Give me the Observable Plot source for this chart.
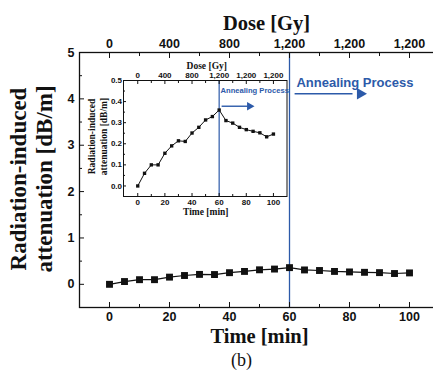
<!DOCTYPE html>
<html>
<head>
<meta charset="utf-8">
<script src="https://cdn.jsdelivr.net/npm/d3@7"></script>
<script src="https://cdn.jsdelivr.net/npm/@observablehq/plot@0.6"></script>
<style>
  html, body { margin: 0; padding: 0; background: white; }
  #wrap { position: relative; width: 433px; height: 374px; overflow: hidden; background: white; }
  #wrap svg { position: absolute; left: 0; top: 0; }
</style>
</head>
<body>
<div id="wrap"></div>
<script>
// ---- data ----
const timeMin = [0, 5, 10, 15, 20, 25, 30, 35, 40, 45, 50, 55, 60, 65, 70, 75, 80, 85, 90, 95, 100];
const ria = [0, 0.06, 0.10, 0.10, 0.155, 0.19, 0.214, 0.211, 0.251, 0.278, 0.313, 0.329, 0.36, 0.31, 0.298, 0.278, 0.267, 0.259, 0.252, 0.233, 0.246];
const xMajor = [0, 20, 40, 60, 80, 100];
const xMinor = [10, 30, 50, 70, 90];
const doseLabels = ["0", "400", "800", "1,200", "1,200", "1,200"];
const yMajorMain = [0, 1, 2, 3, 4, 5];
const yMinorMain = [0.5, 1.5, 2.5, 3.5, 4.5];
const yMajorInset = [0, 0.1, 0.2, 0.3, 0.4, 0.5];
const yMinorInset = [0.05, 0.15, 0.25, 0.35, 0.45];
const annealStart = [60];
const annealLabel = ["Annealing Process"];
// annotation anchors (data coordinates)
const mainNote = {x: 62.3, y: 4.26, ax1: 61.7, ax2: 81, ahx: 83.6, ay: 4.11};
const insetNote = {x: 61, y: 0.439, ax1: 61.8, ax2: 81, ahx: 82.4, ay: 0.378};

const data = timeMin.map((t, i) => ({t, v: ria[i]}));
const blue = "#2c5aa9";
const ink = "#111";
const sans = "Liberation Sans, Arial, sans-serif";
const serif = "Liberation Serif, Times New Roman, serif";
const doseFmt = d => doseLabels[xMajor.indexOf(d)];

// ---- main chart ----
const main = Plot.plot({
  width: 433, height: 374,
  marginLeft: 79, marginTop: 52, marginBottom: 67, marginRight: -6,
  style: {background: "transparent", overflow: "visible", color: ink},
  x: {domain: [-10, 110]},
  y: {domain: [-0.5, 5]},
  marks: [
    Plot.ruleX(annealStart, {stroke: blue, strokeWidth: 1.3}),
    Plot.frame({stroke: ink, strokeWidth: 1.3}),
    Plot.axisX(xMajor, {anchor: "bottom", tickSize: -5, tickPadding: 10, label: null, fontSize: 12.5, fontWeight: "bold", fontFamily: sans}),
    Plot.axisX(xMinor, {anchor: "bottom", tickSize: -3, fill: "none", label: null}),
    Plot.axisX(xMajor, {anchor: "top", tickSize: -5, tickPadding: 10, label: null, tickFormat: doseFmt, fontSize: 12.5, fontWeight: "bold", fontFamily: sans}),
    Plot.axisX(xMinor, {anchor: "top", tickSize: -3, fill: "none", label: null}),
    Plot.axisY(yMajorMain, {anchor: "left", tickSize: -5, tickPadding: 10, label: null, fontSize: 12.5, fontWeight: "bold", fontFamily: sans}),
    Plot.axisY(yMinorMain, {anchor: "left", tickSize: -3, fill: "none", label: null}),
    Plot.line(data, {x: "t", y: "v", stroke: ink, strokeWidth: 1.2}),
    Plot.dot(data, {x: "t", y: "v", symbol: "square", r: 3.9, fill: ink, stroke: "none"}),
    Plot.text(annealLabel, {x: mainNote.x, y: mainNote.y, text: d => d, fill: blue, textAnchor: "start", lineAnchor: "bottom", fontSize: 13, fontWeight: "bold", fontFamily: sans, style: "letter-spacing:-0.5px"}),
    Plot.link([mainNote], {x1: "ax1", x2: "ax2", y1: "ay", y2: "ay", stroke: blue, strokeWidth: 1.6}),
    Plot.dot([mainNote], {x: "ahx", y: "ay", symbol: "triangle", r: 4.3, rotate: 90, fill: blue, stroke: "none"}),
    Plot.text(["Dose [Gy]"], {frameAnchor: "top", dx: 7, dy: -23, text: d => d, lineAnchor: "bottom", fontSize: 20.5, fontWeight: "bold", fontFamily: serif, fill: ink}),
    Plot.text(["Time [min]"], {frameAnchor: "bottom", dx: 0, dy: 35, text: d => d, lineAnchor: "bottom", fontSize: 20.5, fontWeight: "bold", fontFamily: serif, fill: ink}),
    Plot.text(["(b)"], {frameAnchor: "bottom", dx: -18, dy: 58, text: d => d, lineAnchor: "bottom", fontSize: 18, fontFamily: serif, fill: ink}),
    Plot.text(["Radiation-induced\nattenuation [dB/m]"], {frameAnchor: "left", dx: -49, dy: -1, rotate: -90, text: d => d, lineAnchor: "middle", textAnchor: "middle", lineHeight: 1.15, fontSize: 23, fontWeight: "bold", fontFamily: serif, fill: ink})
  ]
});

// ---- inset chart ----
const inset = Plot.plot({
  width: 433, height: 374,
  marginLeft: 123, marginRight: 146.5, marginTop: 80, marginBottom: 178,
  style: {background: "transparent", overflow: "visible", color: ink},
  x: {domain: [-10.5, 110]},
  y: {domain: [-0.05, 0.5]},
  marks: [
    Plot.ruleX(annealStart, {stroke: blue, strokeWidth: 1.2}),
    Plot.frame({stroke: ink, strokeWidth: 1}),
    Plot.axisX(xMajor, {anchor: "bottom", tickSize: -3, tickPadding: 6, label: null, fontSize: 8, fontWeight: "bold", fontFamily: sans}),
    Plot.axisX(xMinor, {anchor: "bottom", tickSize: -2, fill: "none", label: null}),
    Plot.axisX(xMajor, {anchor: "top", tickSize: -3, tickPadding: 6, label: null, tickFormat: doseFmt, fontSize: 8, fontWeight: "bold", fontFamily: sans}),
    Plot.axisX(xMinor, {anchor: "top", tickSize: -2, fill: "none", label: null}),
    Plot.axisY(yMajorInset, {anchor: "left", tickSize: -3, tickPadding: 4.5, label: null, tickFormat: d3.format(".1f"), fontSize: 8, fontWeight: "bold", fontFamily: sans}),
    Plot.axisY(yMinorInset, {anchor: "left", tickSize: -2, fill: "none", label: null}),
    Plot.line(data, {x: "t", y: "v", stroke: ink, strokeWidth: 1}),
    Plot.dot(data, {x: "t", y: "v", symbol: "square", r: 1.9, fill: ink, stroke: "none"}),
    Plot.text(annealLabel, {x: insetNote.x, y: insetNote.y, text: d => d, fill: blue, textAnchor: "start", lineAnchor: "bottom", fontSize: 7.6, fontWeight: "bold", fontFamily: sans, style: "letter-spacing:-0.3px"}),
    Plot.link([insetNote], {x1: "ax1", x2: "ax2", y1: "ay", y2: "ay", stroke: blue, strokeWidth: 1.4}),
    Plot.dot([insetNote], {x: "ahx", y: "ay", symbol: "triangle", r: 3.2, rotate: 90, fill: blue, stroke: "none"}),
    Plot.text(["Dose [Gy]"], {frameAnchor: "top", dx: 1.5, dy: -12, text: d => d, lineAnchor: "bottom", fontSize: 9.5, fontWeight: "bold", fontFamily: serif, fill: ink}),
    Plot.text(["Time [min]"], {frameAnchor: "bottom", dx: 0.5, dy: 18, text: d => d, lineAnchor: "bottom", fontSize: 9.5, fontWeight: "bold", fontFamily: serif, fill: ink}),
    Plot.text(["Radiation-induced\nattenuation [dB/m]"], {frameAnchor: "left", dx: -26.5, dy: -2, rotate: -90, text: d => d, lineAnchor: "middle", textAnchor: "middle", lineHeight: 1.34, fontSize: 9.5, fontWeight: "bold", fontFamily: serif, fill: ink})
  ]
});

const wrap = document.getElementById("wrap");
wrap.appendChild(main);
wrap.appendChild(inset);
</script>
</body>
</html>
